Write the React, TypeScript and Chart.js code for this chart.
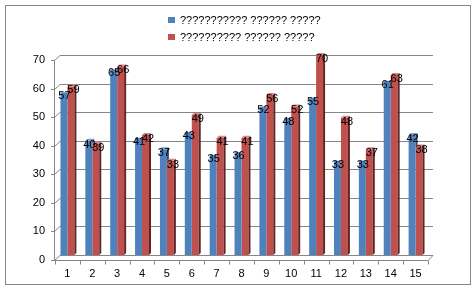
import React, { useEffect, useRef } from "react";
import { Chart, registerables } from "chart.js";

Chart.register(...registerables);

const categories = ["1", "2", "3", "4", "5", "6", "7", "8", "9", "10", "11", "12", "13", "14", "15"];
const seriesAName = "??????????? ?????? ?????";
const seriesBName = "?????????? ?????? ?????";
const seriesA = [57, 40, 65, 41, 37, 43, 35, 36, 52, 48, 55, 33, 33, 61, 42];
const seriesB = [59, 39, 66, 42, 33, 49, 41, 41, 56, 52, 70, 48, 37, 63, 38];
const yMin = 0;
const yMax = 70;
const yStep = 10;

const FONT = "'Liberation Sans', Arial, sans-serif";
const BLUE = "#4F81BD";
const BLUE_SIDE = "#2C4D75";
const BLUE_TOP = "#7FA3D2";
const RED = "#C0504D";
const RED_SIDE = "#5F2524";
const RED_TOP = "#D98582";
const GRID = "#868686";

const decoPlugin = {
  id: "deco",
  beforeDraw(chart: any) {
    const { ctx, width, height } = chart;
    const { left, right, top, bottom } = chart.chartArea;
    const y = chart.scales.y;
    const x = chart.scales.x;
    const D = 5;
    ctx.save();
    ctx.fillStyle = "#ffffff";
    ctx.fillRect(0, 0, width, height);
    ctx.strokeStyle = GRID;
    ctx.lineWidth = 1;
    ctx.strokeRect(5.5, 5.5, 465, 279);

    // back wall grid
    y.ticks.forEach((t: any) => {
      const py = Math.round(y.getPixelForValue(t.value)) + 0.5;
      ctx.beginPath();
      ctx.moveTo(left + D, py);
      ctx.lineTo(right + D, py);
      ctx.stroke();
      ctx.beginPath();
      ctx.moveTo(left - 0.5, py + D);
      ctx.lineTo(left + D, py);
      ctx.stroke();
      ctx.beginPath();
      ctx.moveTo(left - 4, py + D);
      ctx.lineTo(left, py + D);
      ctx.stroke();
    });
    // y axis
    const fy = Math.round(bottom) + D + 0.5;
    ctx.beginPath();
    ctx.moveTo(left - 0.5, Math.round(top) + D);
    ctx.lineTo(left - 0.5, fy);
    ctx.stroke();
    // floor front edge
    ctx.beginPath();
    ctx.moveTo(left - 0.5, fy);
    ctx.lineTo(right, fy);
    ctx.lineTo(right + D, fy - D);
    ctx.stroke();
    // x tick marks at category boundaries
    const n = x.ticks.length;
    for (let i = 0; i <= n; i++) {
      const px = Math.round(left + ((right - left) * i) / n) + 0.5;
      ctx.beginPath();
      ctx.moveTo(px, fy);
      ctx.lineTo(px, fy + 4);
      ctx.stroke();
    }

    // legend
    const items = [
      { label: chart.data.datasets[0].label, color: BLUE, y: 20.5 },
      { label: chart.data.datasets[1].label, color: RED, y: 37.5 },
    ];
    ctx.font = "11px " + FONT;
    ctx.textAlign = "left";
    ctx.textBaseline = "middle";
    items.forEach((it) => {
      ctx.fillStyle = it.color;
      ctx.fillRect(168, Math.round(it.y - 3.5), 7, 6);
      ctx.fillStyle = "#000000";
      ctx.fillText(it.label, 180, it.y);
    });
    ctx.restore();
  },
  afterDatasetsDraw(chart: any) {
    const { ctx } = chart;
    const metaA = chart.getDatasetMeta(0);
    const metaB = chart.getDatasetMeta(1);
    const E = 2;
    const drawFaces = (bar: any, side: string, topc: string) => {
      const xl = bar.x - bar.width / 2;
      const xr = bar.x + bar.width / 2;
      ctx.fillStyle = side;
      ctx.beginPath();
      ctx.moveTo(xr, bar.y);
      ctx.lineTo(xr + E, bar.y - E);
      ctx.lineTo(xr + E, bar.base - E);
      ctx.lineTo(xr, bar.base);
      ctx.closePath();
      ctx.fill();
      ctx.fillStyle = topc;
      ctx.beginPath();
      ctx.moveTo(xl, bar.y);
      ctx.lineTo(xl + E, bar.y - E);
      ctx.lineTo(xr + E, bar.y - E);
      ctx.lineTo(xr, bar.y);
      ctx.closePath();
      ctx.fill();
    };
    ctx.save();
    metaA.data.forEach((bar: any, i: number) => {
      const redBar = metaB.data[i];
      ctx.save();
      ctx.beginPath();
      ctx.rect(0, 0, chart.width, redBar.y);
      ctx.clip();
      drawFaces(bar, BLUE_SIDE, BLUE_TOP);
      ctx.restore();
    });
    metaB.data.forEach((bar: any) => drawFaces(bar, RED_SIDE, RED_TOP));

    ctx.font = "11px " + FONT;
    ctx.fillStyle = "#000000";
    ctx.textAlign = "center";
    ctx.textBaseline = "middle";
    metaA.data.forEach((bar: any, i: number) => {
      ctx.fillText(String(seriesA[i]), bar.x + 0.5, bar.y + 4);
    });
    metaB.data.forEach((bar: any, i: number) => {
      ctx.fillText(String(seriesB[i]), bar.x + 2.5, bar.y + 4);
    });
    ctx.restore();
  },
};

export default function App() {
  const ref = useRef<HTMLCanvasElement | null>(null);
  useEffect(() => {
    document.body.style.margin = "0";
    if (!ref.current) return;
    Chart.defaults.font.family = FONT;
    const chart = new Chart(ref.current, {
      type: "bar",
      data: {
        labels: categories,
        datasets: [
          {
            label: seriesAName,
            data: seriesA,
            backgroundColor: BLUE,
            categoryPercentage: 0.56,
            barPercentage: 1,
          },
          {
            label: seriesBName,
            data: seriesB,
            backgroundColor: RED,
            categoryPercentage: 0.56,
            barPercentage: 1,
          },
        ],
      },
      options: {
        responsive: false,
        maintainAspectRatio: false,
        animation: false,
        devicePixelRatio: 1,
        layout: { padding: { left: 0, right: 48, top: 55, bottom: 0 } },
        plugins: {
          legend: { display: false },
          tooltip: { enabled: false },
        },
        scales: {
          x: {
            grid: { display: false, drawTicks: false },
            border: { display: false },
            ticks: { color: "#000", font: { size: 11, family: FONT }, padding: 12, maxRotation: 0 },
            afterFit: (s: any) => {
              s.height = 35;
            },
          },
          y: {
            min: yMin,
            max: yMax,
            grid: { display: false, drawTicks: false },
            border: { display: false },
            ticks: {
              stepSize: yStep,
              color: "#000",
              font: { size: 11, family: FONT },
              padding: 10,
              labelOffset: 5,
            },
            afterFit: (s: any) => {
              s.width = 55;
            },
          },
        },
      },
      plugins: [decoPlugin],
    });
    return () => chart.destroy();
  }, []);
  return <canvas ref={ref} width={476} height={290} style={{ display: "block" }} />;
}
